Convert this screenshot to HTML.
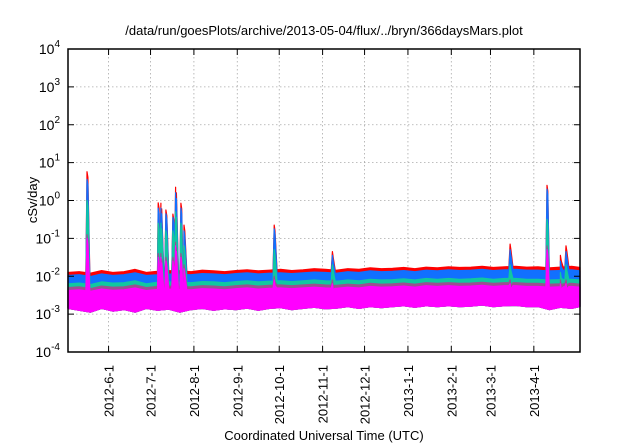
<!DOCTYPE html>
<html><head><meta charset="utf-8"><style>
body{margin:0;background:#fff;}
svg{display:block;font-family:"Liberation Sans",sans-serif;}
</style></head><body>
<svg id="chart" width="640" height="448" viewBox="0 0 640 448">
<text x="324" y="35" font-size="13" text-anchor="middle">/data/run/goesPlots/archive/2013-05-04/flux/../bryn/366daysMars.plot</text>
<text transform="translate(37,200) rotate(-90)" font-size="13" text-anchor="middle">cSv/day</text>
<text x="324" y="440" font-size="13" text-anchor="middle">Coordinated Universal Time (UTC)</text>
<g id="grid"></g><g id="bands"></g><g id="axes"></g>
</svg>
<script>
// data (log10 values), day 0 = 2012-05-03
const baseDays=[0,8,16,24,32,40,48,56,64,72,80,88,96,104,112,120,128,136,144,152,160,168,176,184,192,200,208,216,224,232,240,248,256,264,272,280,288,296,304,312,320,328,336,344,352,360,366];
const redBase=[-1.9,-1.88,-1.92,-1.85,-1.9,-1.88,-1.82,-1.9,-1.87,-1.85,-1.86,-1.88,-1.84,-1.86,-1.88,-1.85,-1.83,-1.86,-1.84,-1.82,-1.85,-1.83,-1.8,-1.82,-1.84,-1.8,-1.82,-1.78,-1.8,-1.79,-1.77,-1.8,-1.76,-1.78,-1.75,-1.77,-1.76,-1.74,-1.77,-1.75,-1.74,-1.76,-1.75,-1.78,-1.76,-1.74,-1.77];
const blueBase=[-1.98,-1.96,-2.01,-1.94,-1.98,-1.96,-1.91,-1.98,-1.96,-1.94,-1.95,-1.96,-1.93,-1.94,-1.96,-1.93,-1.91,-1.94,-1.92,-1.91,-1.93,-1.91,-1.89,-1.9,-1.92,-1.88,-1.9,-1.86,-1.88,-1.87,-1.85,-1.88,-1.84,-1.86,-1.83,-1.85,-1.84,-1.82,-1.85,-1.83,-1.82,-1.84,-1.84,-1.86,-1.85,-1.83,-1.86];
const greenBase=[-2.2,-2.18,-2.22,-2.15,-2.18,-2.17,-2.12,-2.2,-2.16,-2.15,-2.16,-2.17,-2.14,-2.15,-2.17,-2.14,-2.12,-2.15,-2.13,-2.12,-2.14,-2.12,-2.1,-2.12,-2.13,-2.1,-2.12,-2.08,-2.1,-2.09,-2.07,-2.1,-2.06,-2.08,-2.06,-2.08,-2.07,-2.05,-2.08,-2.06,-2.06,-2.08,-2.08,-2.1,-2.09,-2.08,-2.1];
const purpleBase=[-2.3,-2.28,-2.33,-2.26,-2.29,-2.28,-2.23,-2.3,-2.27,-2.26,-2.27,-2.28,-2.25,-2.26,-2.28,-2.25,-2.23,-2.26,-2.24,-2.23,-2.25,-2.23,-2.21,-2.23,-2.24,-2.21,-2.23,-2.19,-2.21,-2.2,-2.18,-2.21,-2.17,-2.19,-2.17,-2.19,-2.18,-2.16,-2.19,-2.17,-2.17,-2.19,-2.19,-2.21,-2.2,-2.19,-2.21];
const magentaBase=[-2.38,-2.36,-2.4,-2.34,-2.37,-2.36,-2.31,-2.38,-2.35,-2.34,-2.35,-2.36,-2.33,-2.34,-2.36,-2.33,-2.31,-2.34,-2.32,-2.31,-2.33,-2.31,-2.29,-2.31,-2.32,-2.29,-2.31,-2.27,-2.29,-2.28,-2.26,-2.29,-2.25,-2.27,-2.25,-2.27,-2.26,-2.24,-2.27,-2.25,-2.25,-2.27,-2.27,-2.29,-2.28,-2.27,-2.29];
const magentaLow=[-2.85,-2.9,-2.95,-2.85,-2.92,-2.88,-2.95,-2.85,-2.9,-2.87,-2.95,-2.88,-2.85,-2.9,-2.86,-2.88,-2.84,-2.9,-2.85,-2.83,-2.88,-2.85,-2.82,-2.86,-2.84,-2.8,-2.85,-2.8,-2.83,-2.8,-2.78,-2.82,-2.78,-2.8,-2.78,-2.8,-2.79,-2.76,-2.8,-2.78,-2.77,-2.8,-2.8,-2.88,-2.82,-2.85,-2.8];
const spikeDays=[13.6,64.5,66.4,70,75,76.9,80.7,82.9,147.4,189,316,342.4,352,356];
const spikeRed=[0.76,-0.06,-0.07,-0.25,-0.36,0.35,-0.07,-0.65,-0.65,-1.35,-1.15,0.4,-1.45,-1.2];
const spikeBlue=[0.56,-0.2,-0.2,-0.35,-0.45,0.2,-0.2,-0.8,-0.75,-1.45,-1.3,0.3,-1.6,-1.35];
const spikeGreen=[0.0,-0.6,-0.6,-0.8,-0.8,-0.3,-0.6,-1.2,-1.3,-1.7,-1.7,-0.5,-1.9,-1.7];
const spikeMagenta=[-1.0,-1.5,-1.5,-1.6,-1.6,-1.2,-1.5,-1.8,-2.1,-2.2,-2.2,-1.3,-2.2,-2.2];
const tickLabels=["2012-6-1","2012-7-1","2012-8-1","2012-9-1","2012-10-1","2012-11-1","2012-12-1","2013-1-1","2013-2-1","2013-3-1","2013-4-1"];
const tickDays=[29,59,90,121,151,182,212,243,274,302,333];
const yExps=[-4,-3,-2,-1,0,1,2,3,4];

const L=68,R=580,T=49,B=352,D0=0,D1=366;
const X=d=>L+(d-D0)/(D1-D0)*(R-L);
const Y=v=>B-(v+4)/8*(B-T);
const NS="http://www.w3.org/2000/svg";
function mk(tag,attrs,parent){const e=document.createElementNS(NS,tag);for(const k in attrs)e.setAttribute(k,attrs[k]);parent.appendChild(e);return e;}
function interp(base,d){for(let i=0;i<baseDays.length-1;i++){if(d<=baseDays[i+1]){const t=(d-baseDays[i])/(baseDays[i+1]-baseDays[i]);return base[i]+t*(base[i+1]-base[i]);}}return base[base.length-1];}
function series(base,peaks){
  const pts=baseDays.map((d,i)=>[d,base[i]]);
  spikeDays.forEach((d,i)=>{pts.push([d-0.8,interp(base,d-0.8)]);pts.push([d,peaks[i]]);pts.push([d+0.6,peaks[i]-0.15]);pts.push([d+2,interp(base,d+2)]);});
  pts.sort((a,b)=>a[0]-b[0]);
  return pts.filter(p=>p[0]>=0&&p[0]<=366);
}
const grid=document.getElementById('grid'),bands=document.getElementById('bands'),axes=document.getElementById('axes');
yExps.forEach(e=>{const y=Y(e);
  if(e>-4&&e<4){const g=mk('line',{x1:L,x2:R,y1:y,y2:y,stroke:'#aaa','stroke-width':0.8,'stroke-dasharray':'1.5,2.5'},grid);
  
  }
  mk('line',{x1:L,x2:L+6,y1:y,y2:y,stroke:'#000'},axes);
  mk('line',{x1:R,x2:R-6,y1:y,y2:y,stroke:'#000'},axes);
  const t=mk('text',{x:L-8,y:y+5,'font-size':14,'text-anchor':'end'},axes);
  
  
  t.textContent='10';const s=mk('tspan',{dy:-7,'font-size':10},t);s.textContent=String(e);
});
tickDays.forEach((d,i)=>{const x=X(d);
  const g=mk('line',{x1:x,x2:x,y1:T,y2:B,stroke:'#aaa','stroke-width':0.8,'stroke-dasharray':'1.5,2.5'},grid);
  
  
  mk('line',{x1:x,x2:x,y1:B,y2:B-6,stroke:'#000'},axes);
  mk('line',{x1:x,x2:x,y1:T,y2:T+6,stroke:'#000'},axes);
  const t=mk('text',{transform:`translate(${x+5},${B+13}) rotate(-90)`,'font-size':13,'text-anchor':'end'},axes);
  
  
  t.textContent=tickLabels[i];
});
const low=baseDays.map((d,i)=>[d,magentaLow[i]]).reverse();
const layers=[[redBase,spikeRed,'#ff0000','band-red'],[blueBase,spikeBlue,'#1170ff','band-blue'],[greenBase,spikeGreen,'#10c8a0','band-green'],[purpleBase,spikeMagenta.map(v=>v+0.1),'#9a5090','band-purple'],[magentaBase,spikeMagenta,'#ff00ff','band-magenta']];
layers.forEach(([b,p,c,n])=>{
  const pts=series(b,p).concat(low);
  const el=mk('polygon',{points:pts.map(q=>X(q[0]).toFixed(1)+','+Y(q[1]).toFixed(1)).join(' '),fill:c,stroke:c,'stroke-width':1.2,'stroke-linejoin':'round'},bands);
  
  
});
const fr=mk('rect',{x:L,y:T,width:R-L,height:B-T,fill:'none',stroke:'#000','stroke-width':1.5},axes);


</script>
</body></html>
